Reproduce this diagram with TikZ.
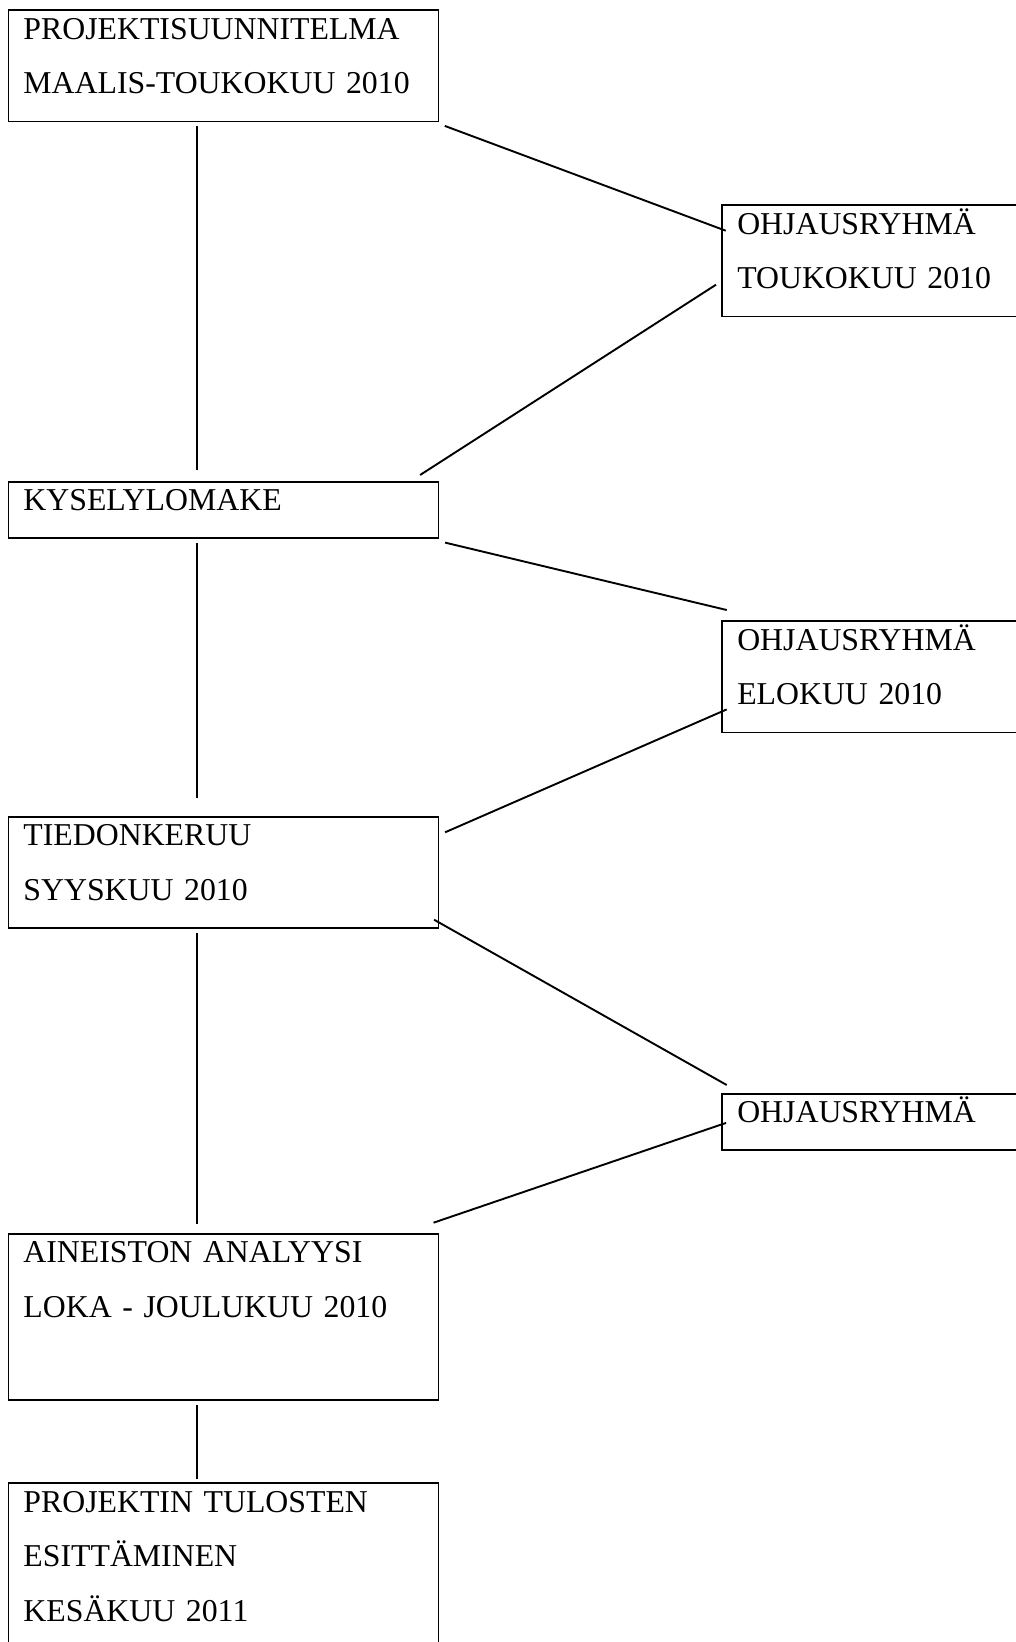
\documentclass[tikz,border=0pt]{standalone}
\usepackage{fontspec}
\setmainfont{Liberation Serif}
\usepackage{tikz}
\tikzset{
    phase/.style={draw, line width=1.9pt, anchor=north west, align=left,
        text width=400pt, inner xsep=15pt, inner ysep=0pt,
        text height=29.2pt, text depth=#1,
        font=\fontsize{31.8}{54.5}\selectfont},
    link/.style={line width=1.9pt}
}
\begin{document}
\begin{tikzpicture}[x=1pt,y=-1pt]
		\useasboundingbox (0,0) rectangle (1016,1642);
		\clip (0,0) rectangle (1016,1642);

		%main phases
		\node[phase=82.3pt] (plan) at (7.5,9) {PROJEKTISUUNNITELMA\\MAALIS-TOUKOKUU 2010};
		\node[phase=27.4pt] (kysely) at (7.5,480.7) {KYSELYLOMAKE};
		\node[phase=82.3pt] (tiedon) at (7.5,815.7) {TIEDONKERUU\\SYYSKUU 2010};
		\node[phase=137.4pt] (analyysi) at (7.5,1232.7) {AINEISTON ANALYYSI\\LOKA - JOULUKUU 2010};
		\node[phase=137.4pt] (tulokset) at (7.5,1482.3) {PROJEKTIN TULOSTEN\\ESITTÄMINEN\\KESÄKUU 2011};

		%steering group
		\node[phase=82.3pt] (ohj1) at (721.3,204) {OHJAUSRYHMÄ\\TOUKOKUU 2010};
		\node[phase=82.3pt] (ohj2) at (721.3,620) {OHJAUSRYHMÄ\\ELOKUU 2010};
		\node[phase=27.4pt] (ohj3) at (721.3,1092.7) {OHJAUSRYHMÄ};

		\draw[link] ([xshift=-26.8pt,yshift=-3.1pt]plan.south) -- ([xshift=-26.8pt,yshift=10.4pt]kysely.north);
		\draw[link] ([xshift=-26.8pt,yshift=-4.2pt]kysely.south) -- ([xshift=-26.8pt,yshift=17.7pt]tiedon.north);
		\draw[link] ([xshift=-26.8pt,yshift=-4.3pt]tiedon.south) -- ([xshift=-26.8pt,yshift=9.2pt]analyysi.north);
		\draw[link] ([xshift=-26.8pt,yshift=-3.4pt]analyysi.south) -- ([xshift=-26.8pt,yshift=3pt]tulokset.north);

		\draw[link] ([xshift=5.4pt,yshift=-3.5pt]plan.south east) -- ([xshift=4.4pt,yshift=-26.7pt]ohj1.north west);
		\draw[link] ([xshift=-5.3pt,yshift=32.7pt]ohj1.south west) -- ([xshift=-19.3pt,yshift=5.7pt]kysely.north east);
		\draw[link] ([xshift=5.7pt,yshift=-3.4pt]kysely.south east) -- ([xshift=5.4pt,yshift=10pt]ohj2.north west);
		\draw[link] ([xshift=5.4pt,yshift=24pt]ohj2.south west) -- ([xshift=5.7pt,yshift=-16.6pt]tiedon.north east);
		\draw[link] ([xshift=-5.3pt,yshift=9.4pt]tiedon.south east) -- ([xshift=5.4pt,yshift=7.7pt]ohj3.north west);
		\draw[link] ([xshift=4.7pt,yshift=28.3pt]ohj3.south west) -- ([xshift=-5.9pt,yshift=10pt]analyysi.north east);

	\end{tikzpicture}
\end{document}
